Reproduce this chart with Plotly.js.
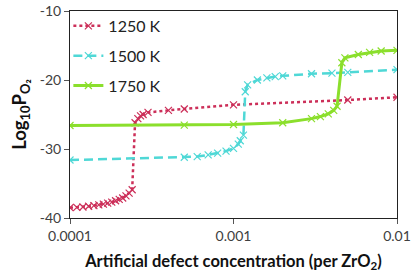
<!DOCTYPE html>
<html><head><meta charset="utf-8">
<script src="https://cdn.plot.ly/plotly-3.0.1.min.js"></script>
<style>html,body{margin:0;padding:0;background:#fff}#chart{width:415px;height:275px}</style>
</head><body><div id="chart"></div>
<script>
// Artificial defect concentration (per ZrO2) and Log10 PO2 for each temperature
var x1250 = [0.0001,0.00011,0.00012,0.00013,0.00014,0.00015,0.00016,0.00017,0.00018,0.00019,0.0002,0.00021,0.00022,0.00023,0.00024,0.00025,0.00026,0.00027,0.00028,0.0003,0.0004,0.0005,0.001,0.005,0.01];
var y1250 = [-38.5,-38.45,-38.4,-38.3,-38.2,-38.1,-38.0,-37.85,-37.7,-37.5,-37.3,-37.1,-36.8,-36.4,-35.9,-26.2,-25.6,-25.2,-25.0,-24.7,-24.4,-24.2,-23.6,-22.9,-22.5];

var x1500 = [0.0001,0.0005,0.0006,0.0007,0.0008,0.0009,0.001,0.00107,0.0011,0.00115,0.00118,0.00122,0.0014,0.0016,0.0018,0.002,0.003,0.004,0.005,0.01];
var y1500 = [-31.6,-31.2,-31.1,-30.85,-30.6,-30.3,-29.9,-29.3,-28.8,-28.0,-21.7,-20.7,-20.0,-19.7,-19.5,-19.4,-19.1,-19.0,-18.9,-18.5];

var x1750 = [0.0001,0.0005,0.001,0.002,0.003,0.0034,0.0038,0.0041,0.0043,0.0046,0.0048,0.0058,0.0068,0.008,0.01];
var y1750 = [-26.6,-26.55,-26.45,-26.2,-25.6,-25.3,-24.9,-24.4,-23.8,-17.5,-16.8,-16.3,-16.0,-15.8,-15.7];

var names = ['1250 K','1500 K','1750 K'];
var xTicks = [0.0001,0.001,0.01];
var xTickText = ['0.0001','0.001','0.01'];
var yTicks = [-40,-30,-20,-10];
var yTickText = ['-40','-30','-20','-10'];

var FONT = 'Lato, "Liberation Sans", Arial, sans-serif';

var traces = [
  {x:x1250, y:y1250, name:names[0], legendgroup:'a', mode:'lines+markers', type:'scatter',
   line:{color:'#CC2F59', width:2.5, dash:'dot'},
   marker:{symbol:'x-thin-open', size:7, line:{color:'#D9557A', width:1.2}}},
  {x:x1500, y:y1500, name:names[1], legendgroup:'b', mode:'lines+markers', type:'scatter',
   line:{color:'#4FD8D6', width:2.5, dash:'9px,5px'},
   marker:{symbol:'x-thin-open', size:7, line:{color:'#6FE0DE', width:1.2}}},
  {x:x1750, y:y1750, name:names[2], legendgroup:'c', mode:'lines+markers', type:'scatter',
   line:{color:'#8BDF2C', width:3},
   marker:{symbol:'x-thin-open', size:7, line:{color:'#A6E860', width:1.2}}}
];

var layout = {
  width:415, height:275,
  margin:{l:70, r:18, t:10, b:57},
  paper_bgcolor:'#fff', plot_bgcolor:'#fff',
  font:{family:FONT, size:14, color:'#333'},
  showlegend:true,
  legend:{x:-0.005, y:1.005, xanchor:'left', yanchor:'top', bgcolor:'rgba(0,0,0,0)',
          font:{family:FONT, size:16, color:'#222'}, tracegroupgap:6, traceorder:'grouped', itemwidth:30},
  xaxis:{type:'log', range:[-4,-2], tickvals:xTicks, ticktext:xTickText,
         ticks:'outside', ticklen:5, tickcolor:'#555', showgrid:false, zeroline:false,
         showline:true, linecolor:'#222', linewidth:1, mirror:true,
         tickfont:{family:FONT, size:14, color:'#404040'},
         title:{text:'Artificial defect concentration (per ZrO<sub>2</sub>)', standoff:12,
                font:{family:FONT, size:16.5, color:'#111', weight:'bold'}}},
  yaxis:{range:[-40,-10], tickvals:yTicks, ticktext:yTickText, ticks:'outside', ticklen:5, tickcolor:'#555',
         showgrid:false, zeroline:false, showline:true, linecolor:'#222', linewidth:1, mirror:true,
         tickfont:{family:FONT, size:14, color:'#404040'},
         title:{text:'Log<sub>10</sub>P<sub>O₂</sub>', standoff:8,
                font:{family:FONT, size:18.5, color:'#111', weight:'bold'}}}
};

Plotly.newPlot('chart', traces, layout, {displayModeBar:false, staticPlot:true});
</script></body></html>
